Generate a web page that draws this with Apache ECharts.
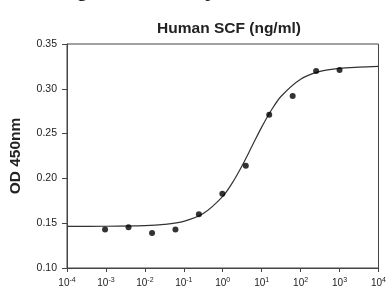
<!DOCTYPE html>
<html>
<head>
<meta charset="utf-8">
<script src="https://cdn.jsdelivr.net/npm/echarts@6/dist/echarts.min.js"></script>
<style>
  html, body { margin: 0; padding: 0; background: #fff; }
  #chart { width: 389px; height: 289px; }
</style>
</head>
<body>
<div id="chart"></div>
<script>
// 测量点 (ng/ml, OD)
var doseValues = [0.00095, 0.0038, 0.0153, 0.061, 0.244, 0.977, 3.906, 15.625, 62.5, 250, 1000];
var odValues = [0.143, 0.1455, 0.139, 0.143, 0.160, 0.183, 0.214, 0.271, 0.292, 0.320, 0.321];
// 拟合曲线
var curveDose = [0.0001, 0.001, 0.01, 0.0316, 0.1, 0.316, 1, 1.78, 3.16, 5.62, 10, 17.8, 31.6, 100, 316, 1000, 3162, 10000];
var curveOd = [0.1465, 0.1466, 0.1473, 0.1487, 0.1521, 0.1607, 0.1799, 0.1953, 0.2144, 0.2358, 0.2572, 0.2763, 0.2917, 0.3107, 0.3194, 0.3229, 0.3242, 0.3250];
var yTicks = [0.10, 0.15, 0.20, 0.25, 0.30, 0.35];

var myChart = echarts.init(document.getElementById("chart"));

var scatterData = doseValues.map(function (d, i) { return [d, odValues[i]]; });
var curveData = curveDose.map(function (d, i) { return [d, curveOd[i]]; });

var option = {
  backgroundColor: "#fff",
  animation: false,
  textStyle: { fontFamily: "Liberation Sans, Arial, sans-serif" },
  title: {
    text: "Human SCF (ng/ml)",
    left: 224,
    top: 16,
    textAlign: "center",
    textStyle: { fontSize: 15.5, fontWeight: "bold", color: "#222" },
  },
  graphic: [
    {
      // 被裁掉的大标题, 只露出下伸部分
      type: "text",
      x: 18,
      y: 1,
      silent: true,
      style: {
        text: "Biological Activity",
        font: "bold 23px Liberation Sans, Arial, sans-serif",
        fill: "#222",
        verticalAlign: "bottom",
      },
    },
  ],
  grid: {
    left: 67,
    right: 8,
    top: 44,
    bottom: 21,
    show: true,
    borderColor: "#444",
    borderWidth: 1,
  },
  xAxis: {
    type: "log",
    logBase: 10,
    min: 0.0001,
    max: 10000,
    axisLine: { onZero: false, lineStyle: { color: "#444", width: 1 } },
    axisTick: { show: true, length: 4, lineStyle: { color: "#444" } },
    minorTick: { show: false },
    splitLine: { show: false },
    axisLabel: {
      margin: 9,
      color: "#222",
      showMinLabel: true,
      showMaxLabel: true,
      formatter: function (v) {
        var e = Math.round(Math.log10(v));
        return "{b|10}{s|" + e + "}";
      },
      rich: {
        b: { fontSize: 10, color: "#222" },
        s: { fontSize: 7, color: "#222", padding: [0, 0, 5, 0] },
      },
    },
  },
  yAxis: {
    type: "value",
    min: 0.10,
    max: 0.35,
    interval: 0.05,
    axisLine: { show: true, lineStyle: { color: "#444", width: 1 } },
    axisTick: { show: true, length: 5, lineStyle: { color: "#444" } },
    splitLine: { show: false },
    axisLabel: {
      margin: 10,
      fontSize: 10.5,
      color: "#222",
      formatter: function (v) {
        return v.toFixed(2);
      },
    },
    name: "OD 450nm",
    nameLocation: "middle",
    nameGap: 43,
    nameTextStyle: { fontSize: 15.5, fontWeight: "bold", color: "#222" },
  },
  series: [
    {
      type: "line",
      data: curveData,
      smooth: 0.3,
      symbol: "none",
      lineStyle: { color: "#333", width: 1.2 },
      z: 2,
    },
    {
      type: "scatter",
      data: scatterData,
      symbol: "circle",
      symbolSize: 6,
      itemStyle: { color: "#000" },
      z: 3,
    },
  ],
};

option && myChart.setOption(option);
</script>
</body>
</html>
